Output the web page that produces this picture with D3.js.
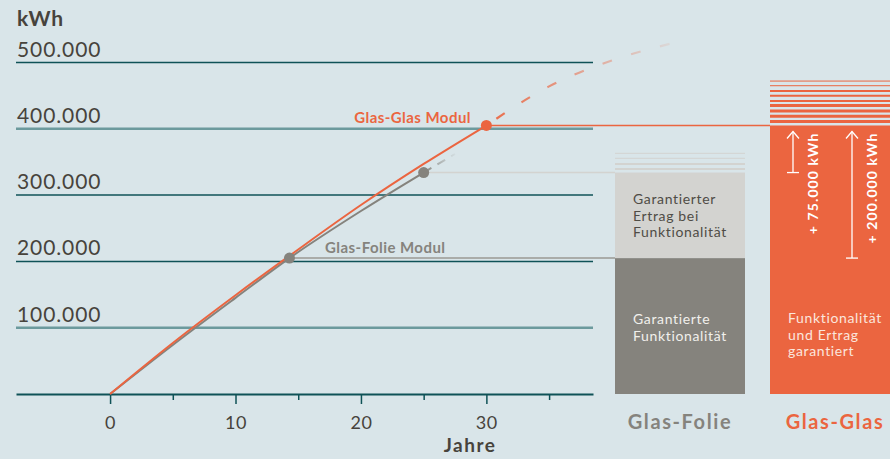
<!doctype html>
<html>
<head>
<meta charset="utf-8">
<style>
  body { margin: 0; background: #d9e5e9; }
  svg { display: block; font-family: Lato, "Open Sans", sans-serif; }
</style>
<script src="https://d3js.org/d3.v7.min.js"></script>
</head>
<body>
<svg width="890" height="459"></svg>
<script>
// cumulative yield in kWh
var glasYears       = [0, 5, 10, 15, 20, 25, 30];
var glasValues      = [0, 77000, 149000, 218000, 285000, 347000, 405000];
var glasDashYears   = [30, 35, 40, 45];
var glasDashValues  = [405000, 464000, 503000, 530000];
var folieYears      = [0, 5, 10, 14.3, 20, 25];
var folieValues     = [0, 74000, 145000, 205000, 276000, 334000];
var folieDashYears  = [25, 27.5];
var folieDashValues = [334000, 362000];
var folieDots  = [[14.3, 205000], [25, 334000]];
var glasDot    = [30, 405000];

var yTicks = [100000, 200000, 300000, 400000, 500000];
var xTicks = [0, 10, 20, 30];
var xMinor = [5, 15, 25, 35];

var bars = ["Glas-Folie", "Glas-Glas"];
var folieSegments = [[0, 205000], [205000, 334000]];
var glasSegment   = [0, 405000];
var folieStripes  = [363000, 355500, 347000, 339500];
var glasStripes   = [472000, 465000, 457000, 450000, 442000, 435000, 427000, 419000, 411000];
var deltas = [["+ 75.000 kWh", 334000], ["+ 200.000 kWh", 205000]];

var orange = "#eb6540", grey = "#85837d", light = "#d3d3d0",
    teal = "#0f5257", tealLight = "#6c9a9d", ink = "#47433c";

var svg = d3.select("svg");
var fmt = d3.formatLocale({decimal: ",", thousands: ".", grouping: [3], currency: ["", ""]}).format(",d");

var x = d3.scaleLinear().domain([-7.5, 38.5]).range([16, 593]);
var y = d3.scaleLinear().domain([0, 500000]).range([394, 62.5]);
var xb = d3.scaleBand().domain(bars).range([615, 900]).paddingInner(0.1613).paddingOuter(0);

// gradients for fading dashes
var defs = svg.append("defs");
function fade(id, x1, x2, col) {
    var g = defs.append("linearGradient").attr("id", id)
        .attr("gradientUnits", "userSpaceOnUse")
        .attr("x1", x1).attr("x2", x2).attr("y1", 0).attr("y2", 0);
    g.append("stop").attr("offset", 0).attr("stop-color", col).attr("stop-opacity", 0.95);
    g.append("stop").attr("offset", 1).attr("stop-color", col).attr("stop-opacity", 0.08);
}
fade("fadeGlas", x(30), x(45), orange);
fade("fadeFolie", x(25), x(27.5), grey);

// y labels and gridlines
svg.append("text").attr("x", 17).attr("y", 26).attr("letter-spacing", 0.8)
   .attr("font-size", 21).attr("font-weight", 700).attr("fill", ink).text("kWh");

var grid = svg.append("g").selectAll("g").data(yTicks).enter().append("g");
grid.append("line")
    .attr("x1", 16).attr("x2", 593)
    .attr("y1", function(d) { return y(d); }).attr("y2", function(d) { return y(d); })
    .attr("stroke", function(d) { return (d === 100000 || d === 400000) ? tealLight : teal; })
    .attr("stroke-width", function(d) { return (d === 100000 || d === 400000) ? 2.5 : 1.5; });
grid.append("text")
    .attr("x", 17).attr("y", function(d) { return y(d) - 6; })
    .attr("font-size", 21).attr("letter-spacing", 0.9).attr("fill", ink)
    .text(function(d) { return fmt(d); });

// x axis
var xAxis = svg.append("g").attr("transform", "translate(0," + y(0) + ")")
    .call(d3.axisBottom(x).tickValues(xTicks).tickSize(10).tickSizeOuter(0).tickPadding(12));
xAxis.select(".domain").attr("stroke", teal).attr("stroke-width", 2);
xAxis.selectAll(".tick line").attr("stroke", teal).attr("stroke-width", 1.5);
xAxis.selectAll(".tick text").attr("font-size", 18).attr("letter-spacing", 0.6)
     .attr("fill", ink).attr("font-family", "Lato, sans-serif");

var xAxis2 = svg.append("g").attr("transform", "translate(0," + y(0) + ")")
    .call(d3.axisBottom(x).tickValues(xMinor).tickSize(6).tickFormat(""));
xAxis2.select(".domain").remove();
xAxis2.selectAll(".tick line").attr("stroke", teal).attr("stroke-width", 1.5);

svg.append("text").attr("x", x(28.7)).attr("y", 452).attr("text-anchor", "middle")
   .attr("font-size", 19).attr("letter-spacing", 1.5).attr("font-weight", 700)
   .attr("fill", ink).text("Jahre");

// bars
var fx = xb("Glas-Folie"), gx = xb("Glas-Glas"), bw = xb.bandwidth();
svg.append("g").selectAll("rect").data(folieSegments).enter().append("rect")
   .attr("x", fx).attr("width", bw)
   .attr("y", function(d) { return y(d[1]); })
   .attr("height", function(d) { return y(d[0]) - y(d[1]); })
   .attr("fill", function(d, i) { return i === 0 ? grey : light; });
svg.append("g").selectAll("line").data(folieStripes).enter().append("line")
   .attr("x1", fx).attr("x2", fx + bw)
   .attr("y1", function(d) { return y(d); }).attr("y2", function(d) { return y(d); })
   .attr("stroke", light).attr("stroke-width", function(d, i) { return i < 2 ? 1 : 2; });

svg.append("rect").attr("x", gx).attr("width", bw)
   .attr("y", y(glasSegment[1])).attr("height", y(glasSegment[0]) - y(glasSegment[1]))
   .attr("fill", orange);
svg.append("g").selectAll("line").data(glasStripes).enter().append("line")
   .attr("x1", gx).attr("x2", gx + bw)
   .attr("y1", function(d) { return y(d); }).attr("y2", function(d) { return y(d); })
   .attr("stroke", orange).attr("stroke-width", function(d, i) { return i < 2 ? 1 : (i < 5 ? 2 : 3); });

// connectors from dots to bars
svg.append("line").attr("x1", x(glasDot[0])).attr("x2", gx)
   .attr("y1", y(glasDot[1])).attr("y2", y(glasDot[1]))
   .attr("stroke", orange).attr("stroke-width", 1.3);
svg.append("line").attr("x1", x(folieDots[0][0])).attr("x2", fx)
   .attr("y1", y(folieDots[0][1])).attr("y2", y(folieDots[0][1]))
   .attr("stroke", "#9a9893").attr("stroke-width", 1.5);
svg.append("line").attr("x1", x(folieDots[1][0])).attr("x2", fx)
   .attr("y1", y(folieDots[1][1])).attr("y2", y(folieDots[1][1]))
   .attr("stroke", light).attr("stroke-width", 1.5);

// bar texts
function lines(arr, x0, y0, col) {
    svg.append("g").selectAll("text").data(arr).enter().append("text")
       .attr("x", x0).attr("y", function(d, i) { return y0 + i * 16.5; })
       .attr("font-size", 14).attr("letter-spacing", 0.65).attr("fill", col)
       .text(function(d) { return d; });
}
lines(["Garantierter", "Ertrag bei", "Funktionalität"], fx + 18, 204, "#4f4c46");
lines(["Garantierte", "Funktionalität"], fx + 18, 324, "#f1f0ec");
lines(["Funktionalität", "und Ertrag", "garantiert"], gx + 18, 323, "#fbe6dd");

// delta arrows
var ax = [gx + 23, gx + 82];
deltas.forEach(function(d, i) {
    var top = y(glasSegment[1]) + 6, bot = y(d[1]);
    var g = svg.append("g").attr("stroke", "#fff").attr("stroke-width", 1.3).attr("fill", "none");
    g.append("line").attr("x1", ax[i]).attr("x2", ax[i]).attr("y1", top).attr("y2", bot);
    g.append("line").attr("x1", ax[i] - 6).attr("x2", ax[i] + 6).attr("y1", bot).attr("y2", bot);
    g.append("path").attr("d", "M" + (ax[i] - 6) + "," + (top + 7) + "L" + ax[i] + "," + top + "L" + (ax[i] + 6) + "," + (top + 7));
    svg.append("text")
       .attr("transform", "translate(" + (ax[i] + 25) + "," + (top + 1) + ") rotate(-90)")
       .attr("text-anchor", "end").attr("font-size", 14).attr("letter-spacing", 1.1)
       .attr("font-weight", 700).attr("fill", "#fff").text(d[0]);
});

// curves
var line = d3.line().x(function(d) { return x(d[0]); }).y(function(d) { return y(d[1]); })
    .curve(d3.curveMonotoneX);
function pts(a, b) { return a.map(function(v, i) { return [v, b[i]]; }); }

svg.append("path").datum(pts(folieDashYears, folieDashValues)).attr("d", line)
   .attr("fill", "none").attr("stroke", "url(#fadeFolie)").attr("stroke-width", 2)
   .attr("stroke-dasharray", "9,7");
svg.append("path").datum(pts(glasDashYears, glasDashValues)).attr("d", line)
   .attr("fill", "none").attr("stroke", "url(#fadeGlas)").attr("stroke-width", 2.2)
   .attr("stroke-dasharray", "0,12,10,8");
svg.append("path").datum(pts(folieYears, folieValues)).attr("d", line)
   .attr("fill", "none").attr("stroke", grey).attr("stroke-width", 2);
svg.append("path").datum(pts(glasYears, glasValues)).attr("d", line)
   .attr("fill", "none").attr("stroke", orange).attr("stroke-width", 2);

svg.append("g").selectAll("circle").data(folieDots).enter().append("circle")
   .attr("cx", function(d) { return x(d[0]); }).attr("cy", function(d) { return y(d[1]); })
   .attr("r", 5.5).attr("fill", grey);
svg.append("circle").attr("cx", x(glasDot[0])).attr("cy", y(glasDot[1])).attr("r", 5.5).attr("fill", orange);

svg.append("text").attr("x", 471).attr("y", 123).attr("text-anchor", "end")
   .attr("font-size", 15).attr("letter-spacing", 0.45).attr("font-weight", 700)
   .attr("fill", orange).text("Glas-Glas Modul");
svg.append("text").attr("x", 325).attr("y", 253)
   .attr("font-size", 15).attr("letter-spacing", 0.45).attr("font-weight", 700)
   .attr("fill", grey).text("Glas-Folie Modul");

// category labels
svg.append("g").selectAll("text").data(bars).enter().append("text")
   .attr("x", function(d) { return xb(d) + bw / 2; }).attr("y", 429)
   .attr("text-anchor", "middle").attr("font-size", 20).attr("letter-spacing", 1.6)
   .attr("font-weight", 700)
   .attr("fill", function(d, i) { return i === 0 ? grey : orange; })
   .text(function(d) { return d; });
</script>
</body>
</html>
